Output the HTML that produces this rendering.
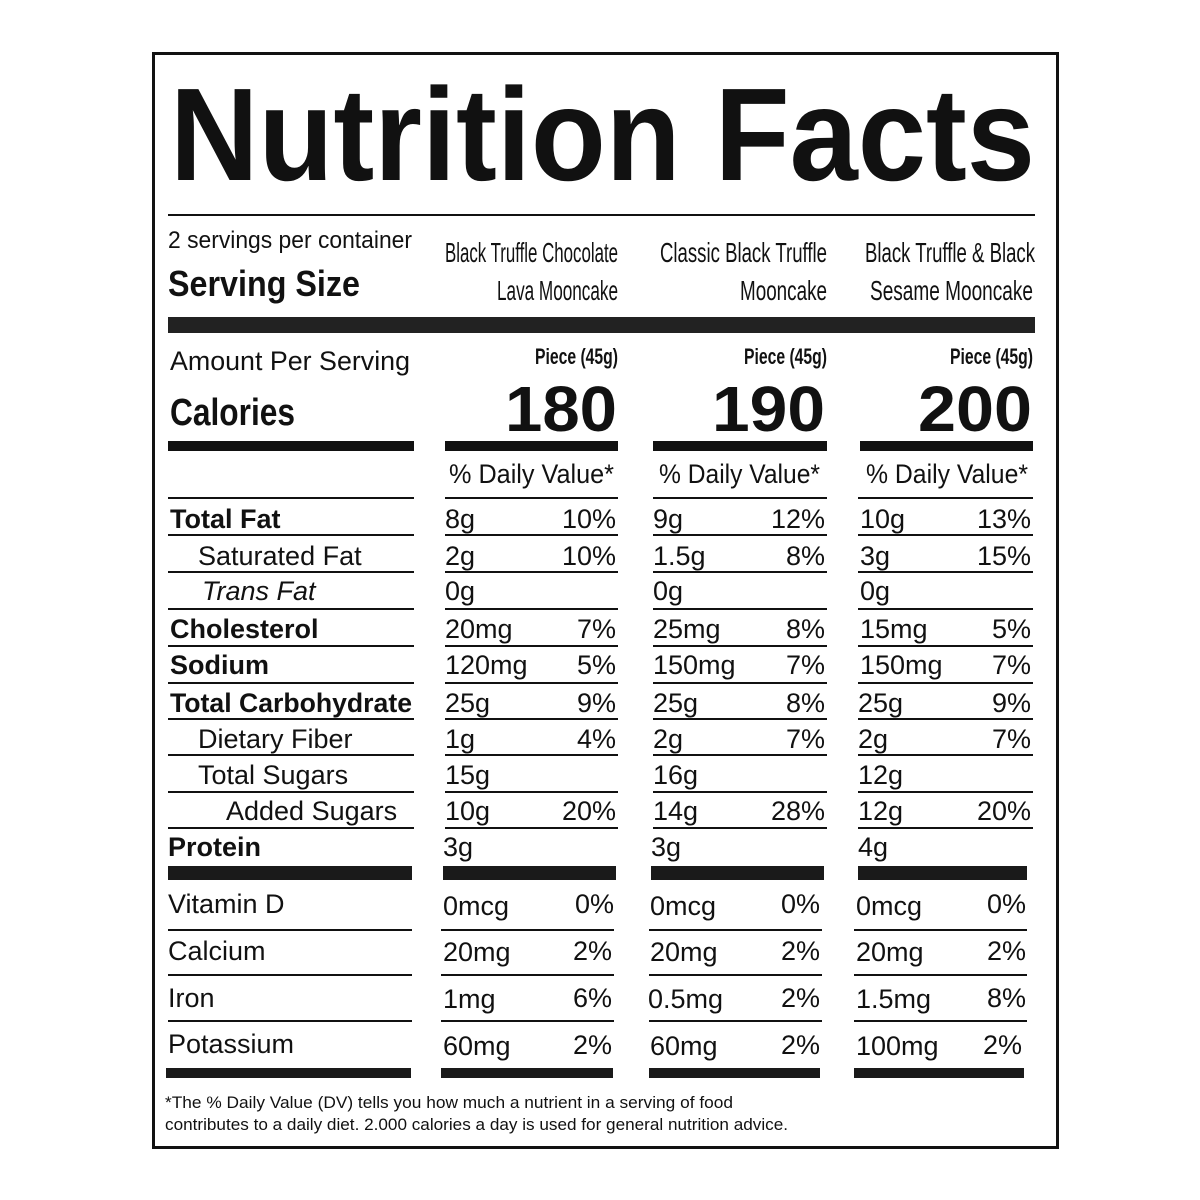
<!DOCTYPE html>
<html><head><meta charset="utf-8"><style>
html,body{margin:0;padding:0;background:#fff;}
svg{display:block;}
text{font-family:"Liberation Sans",sans-serif;fill:#111;}
.b{font-weight:bold;}
.v{font-size:27px;}
.l{font-size:27px;}
</style></head><body>
<svg width="1200" height="1200" viewBox="0 0 1200 1200" xmlns="http://www.w3.org/2000/svg">
<rect x="0" y="0" width="1200" height="1200" fill="#fff"/>
<rect x="153.5" y="53.5" width="904" height="1094" fill="none" stroke="#111" stroke-width="3"/>
<text x="170" y="180" class="b" font-size="132" textLength="865" lengthAdjust="spacingAndGlyphs">Nutrition Facts</text>
<line x1="168" y1="215" x2="1035" y2="215" stroke="#111" stroke-width="2"/>
<text x="168" y="248" font-size="24" textLength="244" lengthAdjust="spacingAndGlyphs">2 servings per container</text>
<text x="168" y="296" class="b" font-size="36" textLength="192" lengthAdjust="spacingAndGlyphs">Serving Size</text>

<g font-size="28">
<text x="445" y="262" textLength="173" lengthAdjust="spacingAndGlyphs">Black Truffle Chocolate</text>
<text x="497" y="300" textLength="121" lengthAdjust="spacingAndGlyphs">Lava Mooncake</text>
<text x="660" y="262" textLength="167" lengthAdjust="spacingAndGlyphs">Classic Black Truffle</text>
<text x="740" y="300" textLength="87" lengthAdjust="spacingAndGlyphs">Mooncake</text>
<text x="865" y="262" textLength="170" lengthAdjust="spacingAndGlyphs">Black Truffle &amp; Black</text>
<text x="870" y="300" textLength="163" lengthAdjust="spacingAndGlyphs">Sesame Mooncake</text>
</g>
<rect x="168" y="317" width="867" height="16" fill="#222"/>

<text x="170" y="370" font-size="27" textLength="240" lengthAdjust="spacingAndGlyphs">Amount Per Serving</text>
<g font-size="22" class="b">
<text x="535" y="364" textLength="83" lengthAdjust="spacingAndGlyphs">Piece (45g)</text>
<text x="744" y="364" textLength="83" lengthAdjust="spacingAndGlyphs">Piece (45g)</text>
<text x="950" y="364" textLength="83" lengthAdjust="spacingAndGlyphs">Piece (45g)</text>
</g>
<text x="170" y="425" class="b" font-size="38" textLength="125" lengthAdjust="spacingAndGlyphs">Calories</text>
<g class="b" font-size="64">
<text x="505" y="431" textLength="112" lengthAdjust="spacingAndGlyphs">180</text>
<text x="712" y="431" textLength="113" lengthAdjust="spacingAndGlyphs">190</text>
<text x="918" y="431" textLength="114" lengthAdjust="spacingAndGlyphs">200</text>
</g>
<g fill="#111">
<rect x="168" y="441" width="246" height="10"/>
<rect x="445" y="441" width="173" height="10"/>
<rect x="653" y="441" width="174" height="10"/>
<rect x="860" y="441" width="173" height="10"/>
</g>
<g font-size="27">
<text x="449" y="483" textLength="165" lengthAdjust="spacingAndGlyphs">% Daily Value*</text>
<text x="659" y="483" textLength="161" lengthAdjust="spacingAndGlyphs">% Daily Value*</text>
<text x="866" y="483" textLength="162" lengthAdjust="spacingAndGlyphs">% Daily Value*</text>
</g>

<g stroke="#111" stroke-width="2">
<line x1="168" y1="498" x2="414" y2="498"/><line x1="445" y1="498" x2="618" y2="498"/><line x1="653" y1="498" x2="827" y2="498"/><line x1="858" y1="498" x2="1033" y2="498"/>
<g id="sep">
<line x1="168" y1="535" x2="414" y2="535"/><line x1="445" y1="535" x2="618" y2="535"/><line x1="653" y1="535" x2="827" y2="535"/><line x1="858" y1="535" x2="1033" y2="535"/>
</g>
<use href="#sep" y="37"/><use href="#sep" y="74"/><use href="#sep" y="111"/><use href="#sep" y="148"/><use href="#sep" y="184"/><use href="#sep" y="220"/><use href="#sep" y="257"/><use href="#sep" y="293"/>
</g>

<g class="l">
<text x="170" y="528" class="b">Total Fat</text>
<text x="198" y="565">Saturated Fat</text>
<text x="202" y="600" font-style="italic">Trans Fat</text>
<text x="170" y="638" class="b">Cholesterol</text>
<text x="170" y="674" class="b">Sodium</text>
<text x="170" y="712" class="b" textLength="242" lengthAdjust="spacingAndGlyphs">Total Carbohydrate</text>
<text x="198" y="748">Dietary Fiber</text>
<text x="198" y="784">Total Sugars</text>
<text x="226" y="820">Added Sugars</text>
<text x="168" y="856" class="b">Protein</text>
</g>

<g class="v">
<!-- col1 -->
<text x="445" y="528">8g</text><text x="616" y="528" text-anchor="end">10%</text>
<text x="445" y="565">2g</text><text x="616" y="565" text-anchor="end">10%</text>
<text x="445" y="600">0g</text>
<text x="445" y="638">20mg</text><text x="616" y="638" text-anchor="end">7%</text>
<text x="445" y="674">120mg</text><text x="616" y="674" text-anchor="end">5%</text>
<text x="445" y="712">25g</text><text x="616" y="712" text-anchor="end">9%</text>
<text x="445" y="748">1g</text><text x="616" y="748" text-anchor="end">4%</text>
<text x="445" y="784">15g</text>
<text x="445" y="820">10g</text><text x="616" y="820" text-anchor="end">20%</text>
<text x="443" y="856">3g</text>
<!-- col2 -->
<text x="653" y="528">9g</text><text x="825" y="528" text-anchor="end">12%</text>
<text x="653" y="565">1.5g</text><text x="825" y="565" text-anchor="end">8%</text>
<text x="653" y="600">0g</text>
<text x="653" y="638">25mg</text><text x="825" y="638" text-anchor="end">8%</text>
<text x="653" y="674">150mg</text><text x="825" y="674" text-anchor="end">7%</text>
<text x="653" y="712">25g</text><text x="825" y="712" text-anchor="end">8%</text>
<text x="653" y="748">2g</text><text x="825" y="748" text-anchor="end">7%</text>
<text x="653" y="784">16g</text>
<text x="653" y="820">14g</text><text x="825" y="820" text-anchor="end">28%</text>
<text x="651" y="856">3g</text>
<!-- col3 -->
<text x="860" y="528">10g</text><text x="1031" y="528" text-anchor="end">13%</text>
<text x="860" y="565">3g</text><text x="1031" y="565" text-anchor="end">15%</text>
<text x="860" y="600">0g</text>
<text x="860" y="638">15mg</text><text x="1031" y="638" text-anchor="end">5%</text>
<text x="860" y="674">150mg</text><text x="1031" y="674" text-anchor="end">7%</text>
<text x="858" y="712">25g</text><text x="1031" y="712" text-anchor="end">9%</text>
<text x="858" y="748">2g</text><text x="1031" y="748" text-anchor="end">7%</text>
<text x="858" y="784">12g</text>
<text x="858" y="820">12g</text><text x="1031" y="820" text-anchor="end">20%</text>
<text x="858" y="856">4g</text>
</g>

<g fill="#1a1a1a">
<rect x="168" y="866" width="244" height="14"/>
<rect x="443" y="866" width="173" height="14"/>
<rect x="651" y="866" width="173" height="14"/>
<rect x="858" y="866" width="169" height="14"/>
</g>

<g class="l">
<text x="168" y="913">Vitamin D</text>
<text x="168" y="960">Calcium</text>
<text x="168" y="1007">Iron</text>
<text x="168" y="1053">Potassium</text>
</g>
<g class="v">
<text x="443" y="915">0mcg</text><text x="614" y="913" text-anchor="end">0%</text>
<text x="443" y="961">20mg</text><text x="612" y="960" text-anchor="end">2%</text>
<text x="443" y="1008">1mg</text><text x="612" y="1007" text-anchor="end">6%</text>
<text x="443" y="1055">60mg</text><text x="612" y="1054" text-anchor="end">2%</text>

<text x="650" y="915">0mcg</text><text x="820" y="913" text-anchor="end">0%</text>
<text x="650" y="961">20mg</text><text x="820" y="960" text-anchor="end">2%</text>
<text x="648" y="1008">0.5mg</text><text x="820" y="1007" text-anchor="end">2%</text>
<text x="650" y="1055">60mg</text><text x="820" y="1054" text-anchor="end">2%</text>

<text x="856" y="915">0mcg</text><text x="1026" y="913" text-anchor="end">0%</text>
<text x="856" y="961">20mg</text><text x="1026" y="960" text-anchor="end">2%</text>
<text x="856" y="1008">1.5mg</text><text x="1026" y="1007" text-anchor="end">8%</text>
<text x="856" y="1055">100mg</text><text x="1022" y="1054" text-anchor="end">2%</text>
</g>
<g stroke="#111" stroke-width="2">
<line x1="168" y1="930" x2="412" y2="930"/><line x1="441" y1="930" x2="614" y2="930"/><line x1="649" y1="930" x2="822" y2="930"/><line x1="854" y1="930" x2="1027" y2="930"/>
<line x1="168" y1="975" x2="412" y2="975"/><line x1="441" y1="975" x2="614" y2="975"/><line x1="649" y1="975" x2="822" y2="975"/><line x1="854" y1="975" x2="1027" y2="975"/>
<line x1="168" y1="1021" x2="412" y2="1021"/><line x1="441" y1="1021" x2="614" y2="1021"/><line x1="649" y1="1021" x2="822" y2="1021"/><line x1="854" y1="1021" x2="1027" y2="1021"/>
</g>
<g fill="#1a1a1a">
<rect x="166" y="1068" width="245" height="10"/>
<rect x="441" y="1068" width="172" height="10"/>
<rect x="649" y="1068" width="171" height="10"/>
<rect x="854" y="1068" width="170" height="10"/>
</g>
<text x="165" y="1108" font-size="17" textLength="568" lengthAdjust="spacingAndGlyphs">*The % Daily Value (DV) tells you how much a nutrient in a serving of food</text>
<text x="165" y="1130" font-size="17" textLength="623" lengthAdjust="spacingAndGlyphs">contributes to a daily diet. 2.000 calories a day is used for general nutrition advice.</text>
</svg>
</body></html>
